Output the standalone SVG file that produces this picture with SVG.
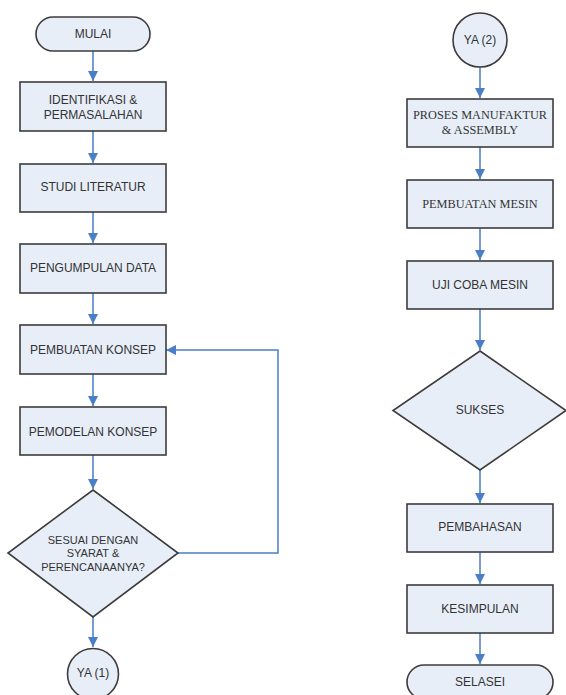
<svg xmlns="http://www.w3.org/2000/svg" width="566" height="695" viewBox="0 0 566 695">
<style>
.n{fill:#e7eef8;stroke:#3c3c3c;stroke-width:1.6}
.t{font-family:"Liberation Sans",Arial,sans-serif;font-size:12px;fill:#333;text-anchor:middle;dominant-baseline:central}
.s{font-family:"Liberation Serif","Times New Roman",serif;font-size:12.3px;fill:#333;text-anchor:middle;dominant-baseline:central}
.d{font-size:11px}
.c{fill:none;stroke:#4a7ec6;stroke-width:1.5}
</style>
<defs>
<marker id="ah" markerUnits="userSpaceOnUse" markerWidth="11" markerHeight="10" refX="10" refY="5" orient="auto" viewBox="0 0 11 10">
<path d="M0,0 L10,5 L0,10 Z" fill="#4a7ec6"/>
</marker>
</defs>
<g id="connectors">
<path class="c" d="M93,51 V81" marker-end="url(#ah)"/>
<path class="c" d="M93,131 V163" marker-end="url(#ah)"/>
<path class="c" d="M93,212 V243" marker-end="url(#ah)"/>
<path class="c" d="M93,293 V324" marker-end="url(#ah)"/>
<path class="c" d="M93,374 V406" marker-end="url(#ah)"/>
<path class="c" d="M93,455 V489" marker-end="url(#ah)"/>
<path class="c" d="M93,617 V647" marker-end="url(#ah)"/>
<path class="c" d="M178,553 H278 V350 H166" marker-end="url(#ah)"/>
<path class="c" d="M480,67 V98" marker-end="url(#ah)"/>
<path class="c" d="M480,147 V179" marker-end="url(#ah)"/>
<path class="c" d="M480,228 V260" marker-end="url(#ah)"/>
<path class="c" d="M480,309 V350" marker-end="url(#ah)"/>
<path class="c" d="M480,470 V503" marker-end="url(#ah)"/>
<path class="c" d="M480,552 V584" marker-end="url(#ah)"/>
<path class="c" d="M480,633 V664" marker-end="url(#ah)"/>
</g>
<g id="mulai"><rect class="n" x="36" y="17" width="114" height="34" rx="17"/><text class="t" x="93" y="34">MULAI</text></g>
<g id="identifikasi"><rect class="n" x="20" y="82" width="146" height="49"/><text class="t" x="93" y="100">IDENTIFIKASI &amp;</text><text class="t" x="93" y="115">PERMASALAHAN</text></g>
<g id="studi"><rect class="n" x="20" y="164" width="146" height="48"/><text class="t" x="93" y="187">STUDI LITERATUR</text></g>
<g id="pengumpulan"><rect class="n" x="20" y="244" width="146" height="49"/><text class="t" x="93" y="268">PENGUMPULAN DATA</text></g>
<g id="pembuatan-konsep"><rect class="n" x="20" y="325" width="146" height="49"/><text class="t" x="93" y="350">PEMBUATAN KONSEP</text></g>
<g id="pemodelan"><rect class="n" x="20" y="407" width="146" height="48"/><text class="t" x="93" y="432">PEMODELAN KONSEP</text></g>
<g id="sesuai"><polygon class="n" points="93,490 178,553 93,617 8,553"/><text class="t d" x="93" y="540">SESUAI DENGAN</text><text class="t d" x="93" y="553">SYARAT &amp;</text><text class="t d" x="93" y="567">PERENCANAANYA?</text></g>
<g id="ya1"><circle class="n" cx="93" cy="674" r="25.5"/><text class="t" x="93" y="673">YA (1)</text></g>
<g id="ya2"><circle class="n" cx="480" cy="40" r="27"/><text class="t" x="480" y="40">YA (2)</text></g>
<g id="proses"><rect class="n" x="407" y="99" width="146" height="48"/><text class="s" x="480" y="115">PROSES MANUFAKTUR</text><text class="s" x="480" y="130">&amp; ASSEMBLY</text></g>
<g id="pembuatan-mesin"><rect class="n" x="407" y="180" width="146" height="48"/><text class="s" x="480" y="204">PEMBUATAN MESIN</text></g>
<g id="uji"><rect class="n" x="407" y="261" width="146" height="48"/><text class="t" x="480" y="285">UJI COBA MESIN</text></g>
<g id="sukses"><polygon class="n" points="480,351 566,410.5 480,470 393,410.5"/><text class="t" x="480" y="410">SUKSES</text></g>
<g id="pembahasan"><rect class="n" x="407" y="504" width="146" height="48"/><text class="t" x="480" y="527">PEMBAHASAN</text></g>
<g id="kesimpulan"><rect class="n" x="407" y="585" width="146" height="48"/><text class="t" x="480" y="609">KESIMPULAN</text></g>
<g id="selasei"><rect class="n" x="407" y="665" width="146" height="34" rx="17"/><text class="t" x="480" y="682">SELASEI</text></g>
</svg>
